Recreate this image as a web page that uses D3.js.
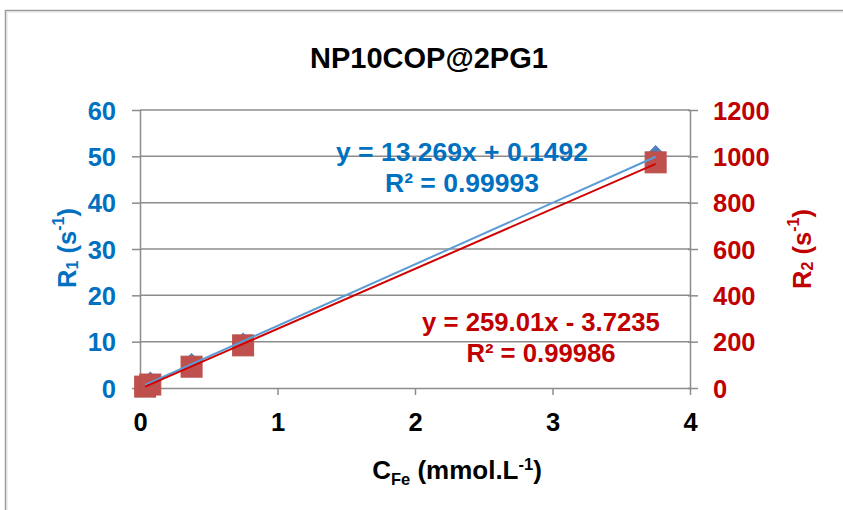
<!DOCTYPE html>
<html><head><meta charset="utf-8">
<script src="https://cdn.jsdelivr.net/npm/d3@7"></script>
<style>
html,body{margin:0;padding:0;background:#fff;}
text{font-family:"Liberation Sans",Arial,sans-serif;font-weight:bold;}
</style></head>
<body>
<svg id="c" width="843" height="510"></svg>
<script>
const title = "NP10COP@2PG1";
const conc = [0.0375, 0.075, 0.375, 0.75, 3.75];
const r1 = [0.6, 1.4, 5.4, 9.8, 50.3];
const r2 = [6, 15, 92, 184, 974];
const xTicks = [0, 1, 2, 3, 4];
const y1Ticks = [0, 10, 20, 30, 40, 50, 60];
const y2Ticks = [0, 200, 400, 600, 800, 1000, 1200];
const fit1 = {slope: 13.269, intercept: 0.1492, eq: "y = 13.269x + 0.1492", r2: "R² = 0.99993"};
const fit2 = {slope: 259.01, intercept: -3.7235, eq: "y = 259.01x - 3.7235", r2: "R² = 0.99986"};

const blue = "#0070C0", red = "#C00000", grid = "#8c8c8c";
const svg = d3.select("#c");
const L = 140, R = 690, T = 110, B = 388;
const x = d3.scaleLinear().domain([0, 4]).range([L, R]);
const y1 = d3.scaleLinear().domain([0, 60]).range([B, T]);
const y2 = d3.scaleLinear().domain([0, 1200]).range([B, T]);

// outer border
svg.append("rect").attr("x", 5.5).attr("y", 10.5).attr("width", 900).attr("height", 600)
  .attr("fill", "none").attr("stroke", "#9a9a9a").attr("stroke-width", 1.5);
svg.append("rect").attr("x", 7).attr("y", 12).attr("width", 900).attr("height", 600)
  .attr("fill", "none").attr("stroke", "#dcdcdc").attr("stroke-width", 1);

// title
svg.append("text").attr("x", 429).attr("y", 68).attr("text-anchor", "middle")
  .attr("font-size", 29).attr("fill", "#000").text(title);

// gridlines
svg.append("g").selectAll("line").data(y1Ticks.filter(d => d > 0)).join("line")
  .attr("x1", L).attr("x2", R).attr("y1", d => y1(d)).attr("y2", d => y1(d))
  .attr("stroke", grid).attr("stroke-width", 1.5);

function styleAxis(g, color) {
  g.attr("font-family", null).attr("font-size", null);
  g.select(".domain").attr("stroke", grid).attr("stroke-width", 1.5);
  g.selectAll(".tick line").attr("stroke", grid).attr("stroke-width", 1.5);
  g.selectAll(".tick text").attr("fill", color).attr("font-size", 25.5);
}
const gL = svg.append("g").attr("transform", `translate(${L},0)`)
  .call(d3.axisLeft(y1).tickValues(y1Ticks).tickFormat(d3.format("d")).tickSize(8).tickPadding(16).tickSizeOuter(0));
styleAxis(gL, blue);
gL.selectAll(".tick text").attr("dy", "0.36em");
const gR = svg.append("g").attr("transform", `translate(${R},0)`)
  .call(d3.axisRight(y2).tickValues(y2Ticks).tickFormat(d3.format("d")).tickSize(8).tickPadding(15).tickSizeOuter(0));
styleAxis(gR, red);
gR.selectAll(".tick text").attr("dy", "0.36em");
gR.selectAll(".tick line").attr("x1", -2);
const gB = svg.append("g").attr("transform", `translate(0,${B})`)
  .call(d3.axisBottom(x).tickValues(xTicks).tickFormat(d3.format("d")).tickSize(7).tickPadding(18).tickSizeOuter(0));
styleAxis(gB, "#000");

// markers: R1 diamonds (behind), R2 squares
const h = 10;
svg.append("g").selectAll("path").data(conc).join("path")
  .attr("d", `M0,${-h}L${h},0L0,${h}L${-h},0Z`)
  .attr("transform", (d, i) => `translate(${x(d)},${y1(r1[i])})`)
  .attr("fill", "#4F81BD");
const s = 21;
svg.append("g").selectAll("rect").data(conc).join("rect")
  .attr("x", d => x(d) - s / 2).attr("y", (d, i) => y2(r2[i]) - s / 2)
  .attr("width", s).attr("height", s)
  .attr("fill", "#C0504D").attr("stroke", "#B9504C").attr("stroke-width", 1);

// trendlines
const xmin = d3.min(conc), xmax = d3.max(conc);
svg.append("line")
  .attr("x1", x(xmin)).attr("y1", y1(fit1.slope * xmin + fit1.intercept))
  .attr("x2", x(xmax)).attr("y2", y1(fit1.slope * xmax + fit1.intercept))
  .attr("stroke", "#5B9BD5").attr("stroke-width", 2);
svg.append("line")
  .attr("x1", x(xmin)).attr("y1", y2(fit2.slope * xmin + fit2.intercept))
  .attr("x2", x(xmax)).attr("y2", y2(fit2.slope * xmax + fit2.intercept))
  .attr("stroke", "#D00000").attr("stroke-width", 2);

// equations
function eqText(cx, by, lines, color, fs) {
  lines.forEach((t, i) => svg.append("text").attr("x", cx).attr("y", by + i * 31)
    .attr("text-anchor", "middle").attr("font-size", fs).attr("fill", color).text(t));
}
eqText(462, 161, [fit1.eq, fit1.r2], blue, 26.5);
eqText(541, 331, [fit2.eq, fit2.r2], red, 25.7);

// axis titles
function rotTitle(cx, cy, sub, color) {
  const t = svg.append("text").attr("transform", `translate(${cx},${cy}) rotate(-90)`)
    .attr("text-anchor", "middle").attr("dominant-baseline", "central")
    .attr("font-size", 25.5).attr("fill", color);
  t.append("tspan").text("R");
  t.append("tspan").attr("font-size", 16).attr("dy", 5).text(sub);
  t.append("tspan").attr("dy", -5).text(" (s");
  t.append("tspan").attr("font-size", 16).attr("dy", -9).text("-1");
  t.append("tspan").attr("dy", 9).text(")");
}
rotTitle(67, 248, "1", blue);
rotTitle(802, 249, "2", red);

const xt = svg.append("text").attr("x", 457).attr("y", 479).attr("text-anchor", "middle")
  .attr("font-size", 26).attr("fill", "#000");
xt.append("tspan").text("C");
xt.append("tspan").attr("font-size", 16.5).attr("dy", 6).text("Fe");
xt.append("tspan").attr("dy", -6).text(" (mmol.L");
xt.append("tspan").attr("font-size", 16.5).attr("dy", -9).text("-1");
xt.append("tspan").attr("dy", 9).text(")");
</script>
</body></html>
